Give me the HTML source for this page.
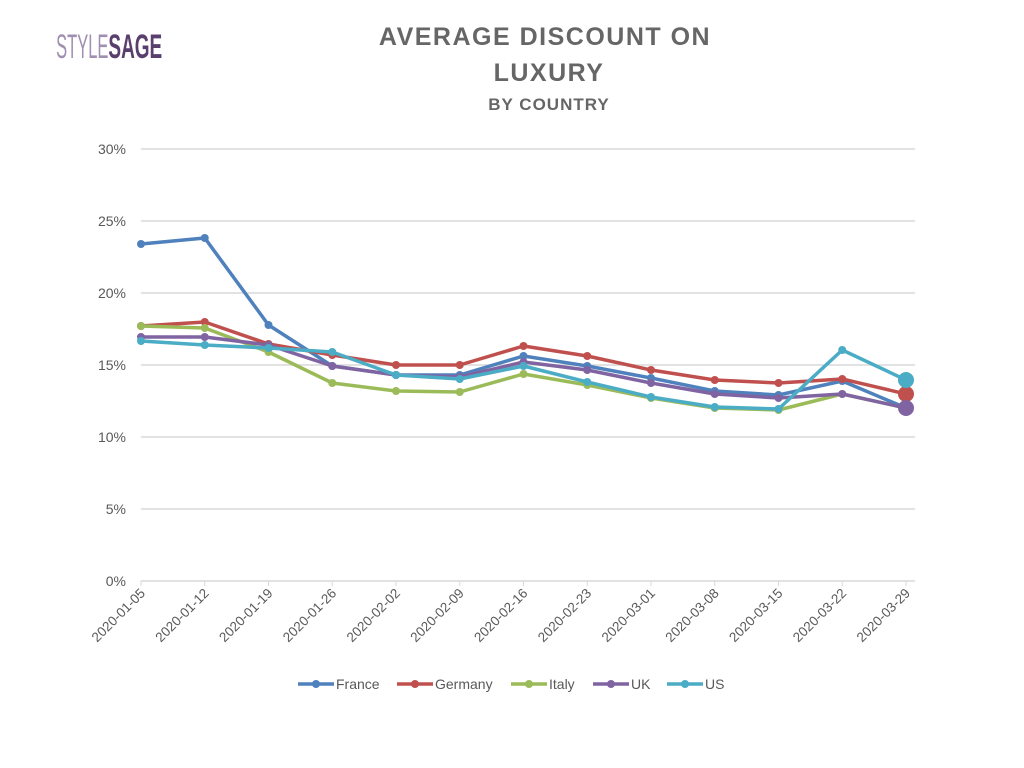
<!DOCTYPE html>
<html><head><meta charset="utf-8"><style>
html,body{margin:0;padding:0;background:#fff;width:1024px;height:768px;overflow:hidden}
text{font-family:"Liberation Sans",sans-serif}
</style></head><body>
<svg id="s" width="1024" height="768" xmlns="http://www.w3.org/2000/svg">
<text x="72" y="58" font-size="34" fill="#a08fb0" transform="scale(0.78,1)" textLength="67" lengthAdjust="spacingAndGlyphs">STYLE</text>
<text x="139" y="58" font-size="34" fill="#5a3f6e" font-weight="bold" transform="scale(0.78,1)" textLength="69" lengthAdjust="spacingAndGlyphs">SAGE</text>
<text x="545" y="45" font-size="25" fill="#666" text-anchor="middle" font-weight="bold" letter-spacing="1.5">AVERAGE DISCOUNT ON</text>
<text x="549" y="81" font-size="25" fill="#666" text-anchor="middle" font-weight="bold" letter-spacing="1.5">LUXURY</text>
<text x="549" y="110" font-size="17" fill="#666" text-anchor="middle" font-weight="bold" letter-spacing="1">BY COUNTRY</text>
<g id="g"></g>
</svg>
<script>
var g=document.getElementById('g'),h='';
for(var i=0;i<=6;i++){var y=581-72*i;h+='<line x1="141" x2="915" y1="'+y+'" y2="'+y+'" stroke="#d9d9d9" stroke-width="1.5"/>';
h+='<text x="126" y="'+(y+5)+'" font-size="14" fill="#595959" text-anchor="end">'+(5*i)+'%</text>';}
var d=['2020-01-05','2020-01-12','2020-01-19','2020-01-26','2020-02-02','2020-02-09','2020-02-16','2020-02-23','2020-03-01','2020-03-08','2020-03-15','2020-03-22','2020-03-29'];
function X(i){return 141+i*63.75}
for(var i=0;i<13;i++){var x=X(i);h+='<line x1="'+x+'" x2="'+x+'" y1="581" y2="586" stroke="#d9d9d9"/>';
h+='<text x="0" y="0" font-size="13.5" fill="#595959" text-anchor="end" transform="translate('+(x+5)+',594) rotate(-45)">'+d[i]+'</text>';}
var S=[
['#4f81bd',[244,238,325,366,375,375,356,366,378,391,395,381,408],0],
['#c0504d',[326,322,344,355,365,365,346,356,370,380,383,379,394],1],
['#9bbb59',[326,328,352,383,391,392,374,385,398,408,410,394,408],0],
['#8064a2',[337,337,345,366,375,377,362,370,383,394,398,394,408],1],
['#4bacc6',[341,345,348,352,375,379,366,382,397,407,409,350,380],1]];
S.forEach(function(s){var p=s[1].map(function(y,i){return X(i)+','+y}).join(' ');
h+='<polyline points="'+p+'" fill="none" stroke="'+s[0]+'" stroke-width="3.5" stroke-linejoin="round"/>';
s[1].forEach(function(y,i){var r=(i==12&&s[2])?8:4;h+='<circle cx="'+X(i)+'" cy="'+y+'" r="'+r+'" fill="'+s[0]+'"/>';});});
var L=[['France',298],['Germany',397],['Italy',511],['UK',593],['US',667]];
L.forEach(function(l,i){var c=S[i][0];h+='<line x1="'+l[1]+'" x2="'+(l[1]+36)+'" y1="684" y2="684" stroke="'+c+'" stroke-width="3.5"/><circle cx="'+(l[1]+18)+'" cy="684" r="4" fill="'+c+'"/><text x="'+(l[1]+38)+'" y="689" font-size="14" fill="#595959">'+l[0]+'</text>';});
g.innerHTML=h;
</script>
</body></html>
